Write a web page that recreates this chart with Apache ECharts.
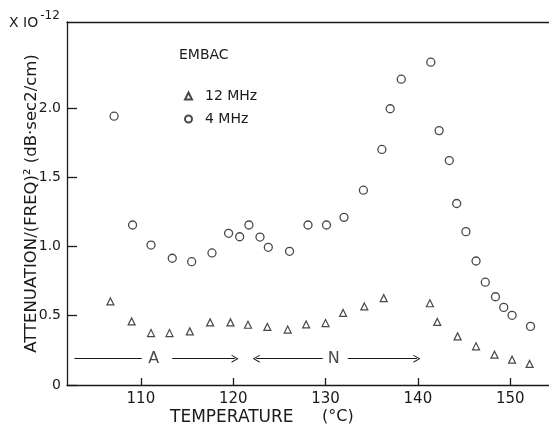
<!DOCTYPE html>
<html>
<head>
<meta charset="utf-8">
<script src="https://cdn.jsdelivr.net/npm/echarts@6/dist/echarts.min.js"></script>
<style>
  html, body { margin: 0; padding: 0; background: #fff; }
  #main { width: 549px; height: 425px; }
</style>
</head>
<body>
<div id="main"></div>
<script>
// 4 MHz (circles)
var temp4 = [107.1, 109.1, 111.1, 113.4, 115.5, 117.7, 119.5, 120.7, 121.7, 122.9, 123.8, 126.1, 128.1, 130.1, 132.0,
             134.1, 136.1, 137.0, 138.2, 141.4, 142.3, 143.4, 144.2, 145.2, 146.3, 147.3, 148.4, 149.3, 150.2, 152.2];
var atten4 = [1.94, 1.155, 1.01, 0.915, 0.89, 0.953, 1.095, 1.07, 1.155, 1.068, 0.994, 0.965, 1.155, 1.155, 1.21,
              1.406, 1.70, 1.994, 2.207, 2.33, 1.836, 1.62, 1.31, 1.107, 0.895, 0.742, 0.637, 0.56, 0.503, 0.423];
// 12 MHz (triangles)
var temp12 = [106.7, 109.0, 111.1, 113.1, 115.3, 117.5, 119.7, 121.6, 123.7, 125.9, 127.9, 130.0, 131.9, 134.2, 136.3,
              141.3, 142.1, 144.3, 146.3, 148.3, 150.2, 152.1];
var atten12 = [0.603, 0.459, 0.375, 0.375, 0.387, 0.452, 0.452, 0.435, 0.419, 0.40, 0.437, 0.447, 0.52, 0.567, 0.627,
               0.59, 0.455, 0.351, 0.279, 0.219, 0.183, 0.152];

var xTicks = [110, 120, 130, 140, 150];
var yTicks = [0, 0.5, 1.0, 1.5, 2.0];
var yTickLabels = ['0', '0.5', '1.0', '1.5', '2.0'];

// phase arrows (A, N) in data coordinates
var arrowLevel = 0.19;
var arrowSegs = [[102.8, 110.1, 'none', 'none'], [113.4, 120.2, 'none', 'head'],
                 [122.5, 129.7, 'head', 'none'], [132.4, 139.9, 'none', 'head']];
var phaseLabels = [[111.4, 'A'], [130.9, 'N']];

var ink = '#1a1a1a';
var font = 'DejaVu Sans';
var headPath = 'path://M0,10 L5,0 L10,10 L8.6,10 L5,2.6 L1.4,10 Z';

function pairs(xs, ys) {
    return xs.map(function (x, i) { return [x, ys[i]]; });
}

var myChart = echarts.init(document.getElementById('main'));

var option = {
    backgroundColor: '#fff',
    animation: false,
    grid: { left: 67, right: 0, top: 22, bottom: 40 },
    legend: {
        orient: 'vertical',
        left: 179,
        top: 84,
        itemGap: 9,
        itemWidth: 7,
        itemHeight: 7,
        data: ['12 MHz', '4 MHz'],
        textStyle: { fontFamily: font, fontSize: 14, color: ink, padding: [0, 0, 0, 8] }
    },
    graphic: [
        { type: 'text', left: 179, top: 48, style: { text: 'EMBAC', font: '14px "DejaVu Sans"', fill: ink } },
        {
            type: 'text', left: 9, top: 10,
            style: {
                text: '{b|X IO}{s|-12}',
                rich: {
                    b: { fontFamily: font, fontSize: 14, fill: ink, padding: [8, 0, 0, 0] },
                    s: { fontFamily: font, fontSize: 12, fill: ink, padding: [0, 0, 6, 2] }
                }
            }
        },
        { type: 'text', left: 170, top: 409, style: { text: 'TEMPERATURE', font: '17px "DejaVu Sans"', fill: ink } },
        { type: 'text', left: 322, top: 409, style: { text: '(°C)', font: '16px "DejaVu Sans"', fill: ink } }
    ],
    xAxis: [{
        type: 'value',
        min: 102,
        max: 154.2,
        splitLine: { show: false },
        axisLine: { lineStyle: { color: ink, width: 1.3 } },
        axisTick: { inside: true, length: 7, customValues: xTicks, lineStyle: { color: ink, width: 1.3 } },
        axisLabel: { customValues: xTicks, fontFamily: font, fontSize: 15, color: ink, margin: 7 }
    }, {
        type: 'value',
        position: 'top',
        min: 102,
        max: 154.2,
        splitLine: { show: false },
        axisLine: { show: true, lineStyle: { color: ink, width: 1.3 } },
        axisTick: { show: false },
        axisLabel: { show: false }
    }],
    yAxis: {
        type: 'value',
        min: 0,
        max: 2.62,
        splitLine: { show: false },
        name: 'ATTENUATION/(FREQ)² (dB·sec2/cm)',
        nameLocation: 'middle',
        nameRotate: 90,
        nameGap: 27,
        nameMoveOverlap: false,
        nameTextStyle: { fontFamily: font, fontSize: 16.5, color: ink },
        axisLine: { lineStyle: { color: ink, width: 1.3 } },
        axisTick: { inside: true, length: 10, customValues: yTicks, lineStyle: { color: ink, width: 1.3 } },
        axisLabel: {
            customValues: yTicks,
            fontFamily: font, fontSize: 14, color: ink, margin: 6,
            formatter: function (v) {
                var i = yTicks.indexOf(v);
                return i >= 0 ? yTickLabels[i] : '';
            }
        }
    },
    series: [{
        name: '12 MHz',
        type: 'scatter',
        symbol: 'triangle',
        symbolSize: [7, 7],
        itemStyle: { color: 'rgba(255,255,255,0)', borderColor: ink, borderWidth: 1.2 },
        data: pairs(temp12, atten12)
    }, {
        name: '4 MHz',
        type: 'scatter',
        symbol: 'circle',
        symbolSize: 8,
        itemStyle: { color: 'rgba(255,255,255,0)', borderColor: ink, borderWidth: 1.3 },
        data: pairs(temp4, atten4)
    }, {
        name: 'phases',
        type: 'scatter',
        symbolSize: 0,
        silent: true,
        label: {
            show: true,
            position: 'inside',
            formatter: function (p) { return p.value[2]; },
            fontFamily: font, fontSize: 16, color: ink
        },
        data: phaseLabels.map(function (d) { return [d[0], arrowLevel, d[1]]; }),
        markLine: {
            silent: true,
            animation: false,
            label: { show: false },
            lineStyle: { color: ink, width: 1, type: 'solid' },
            data: arrowSegs.map(function (s) {
                return [
                    { coord: [s[0], arrowLevel], symbol: s[2] === 'head' ? headPath : 'none', symbolSize: [8, 7] },
                    { coord: [s[1], arrowLevel], symbol: s[3] === 'head' ? headPath : 'none', symbolSize: [8, 7] }
                ];
            })
        }
    }]
};

myChart.setOption(option);
</script>
</body>
</html>
